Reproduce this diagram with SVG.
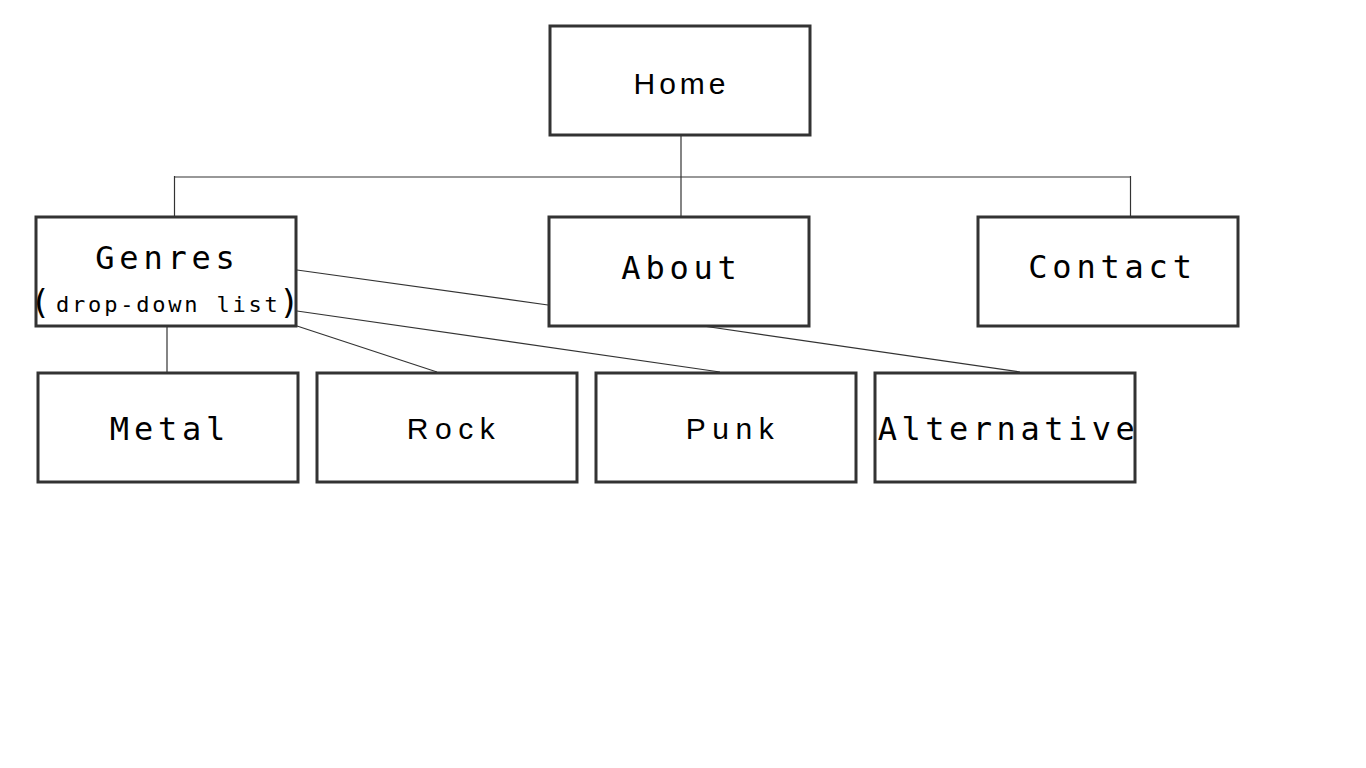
<svg xmlns="http://www.w3.org/2000/svg" width="1366" height="768" viewBox="0 0 1366 768">
<style>
.box{fill:#fff;stroke:#333;stroke-width:3}
.con line{stroke:#333;stroke-width:1.2}
.mono{font-family:"DejaVu Sans Mono","Liberation Mono",monospace;font-size:32px;letter-spacing:4.8px;fill:#000;text-anchor:middle}
.sans{font-family:"Liberation Sans",Arial,sans-serif;font-size:30px;fill:#000;text-anchor:middle}
</style>
<rect width="1366" height="768" fill="#fff"/>
<g id="connectors" class="con">
<line x1="681" y1="135" x2="681" y2="216"/>
<line x1="174" y1="177" x2="1131" y2="177"/>
<line x1="174.5" y1="176" x2="174.5" y2="216"/>
<line x1="1130.5" y1="176" x2="1130.5" y2="216"/>
<line x1="167" y1="326" x2="167" y2="372"/>
<line x1="297" y1="270" x2="548" y2="305"/>
<line x1="297" y1="311" x2="720" y2="372"/>
<line x1="297" y1="326" x2="437" y2="372"/>
<line x1="703" y1="326" x2="1020" y2="372"/>
</g>
<g id="home"><rect class="box" x="550" y="26" width="260" height="109"/><text class="sans" x="681.5" y="94" style="letter-spacing:4px">Home</text></g>
<g id="genres"><rect class="box" x="36" y="217" width="260" height="109"/>
<text class="mono" x="167.5" y="269">Genres</text>
<text font-family="DejaVu Sans Mono,Liberation Mono,monospace" fill="#000"><tspan x="30" y="314" font-size="34">(</tspan><tspan x="56" y="312" font-size="22" letter-spacing="2.8">drop-down list</tspan><tspan x="279" y="314" font-size="34">)</tspan></text>
</g>
<g id="about"><rect class="box" x="549" y="217" width="260" height="109"/><text class="mono" x="681.5" y="279">About</text></g>
<g id="contact"><rect class="box" x="978" y="217" width="260" height="109"/><text class="mono" x="1112.5" y="278">Contact</text></g>
<g id="metal"><rect class="box" x="38" y="373" width="260" height="109"/><text class="mono" x="170" y="440">Metal</text></g>
<g id="rock"><rect class="box" x="317" y="373" width="260" height="109"/><text class="sans" x="454" y="439" style="letter-spacing:6.5px">Rock</text></g>
<g id="punk"><rect class="box" x="596" y="373" width="260" height="109"/><text class="sans" x="733" y="439" style="letter-spacing:6.5px">Punk</text></g>
<g id="alternative"><rect class="box" x="875" y="373" width="260" height="109"/><text class="mono" x="1008.5" y="440" style="letter-spacing:4.5px">Alternative</text></g>
</svg>
